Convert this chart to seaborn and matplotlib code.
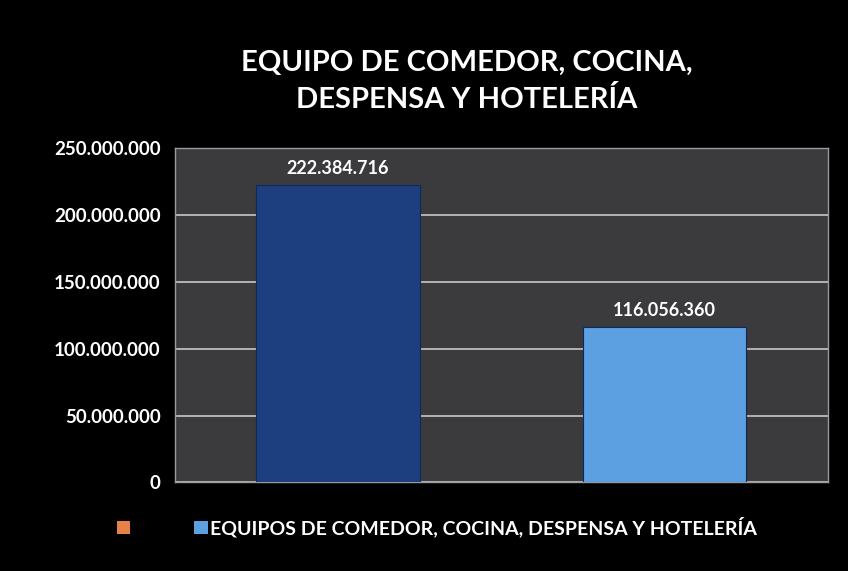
import matplotlib
matplotlib.use("Agg")
import matplotlib.pyplot as plt
import seaborn as sns
import pandas as pd
from matplotlib.patches import Patch

categories = ["Equipo 1", "Equipo 2"]
values = [222384716, 116056360]
value_labels = ["222.384.716", "116.056.360"]
yticks = [0, 50000000, 100000000, 150000000, 200000000, 250000000]
ytick_labels = ["0", "50.000.000", "100.000.000", "150.000.000", "200.000.000", "250.000.000"]
title = "EQUIPO DE COMEDOR, COCINA,\nDESPENSA Y HOTELERÍA"
legend_label = "EQUIPOS DE COMEDOR, COCINA, DESPENSA Y HOTELERÍA"
colors = ["#1d3f80", "#5ca0e2"]

sns.set_theme(style="white")
plt.rcParams["font.family"] = ["Lato", "DejaVu Sans"]

df = pd.DataFrame({"cat": categories, "val": values})

fig = plt.figure(figsize=(8.48, 5.71), dpi=100, facecolor="black")
ax = fig.add_axes([0.206, 0.155, 0.77, 0.585])
ax.set_facecolor("#3b3a3c")

sns.barplot(data=df, x="cat", y="val", hue="cat", palette=colors, width=0.5,
            saturation=1, ax=ax, legend=False, edgecolor="#0f2a5a",
            linewidth=0.8, zorder=3)

ax.set_ylim(0, 250000000)
ax.set_xlim(-0.5, 1.5)
ax.set_yticks(yticks)
ax.set_yticklabels(ytick_labels, color="white", fontsize=13.5, fontweight="bold")
ax.set_xticks([])
ax.set_xlabel("")
ax.set_ylabel("")
ax.tick_params(axis="y", length=0, pad=10)
ax.grid(axis="y", color="#b8b0b8", linewidth=1.4, zorder=0)
ax.set_axisbelow(True)
for s in ax.spines.values():
    s.set_color("#9a9a9a")
    s.set_linewidth(1.0)

for i, (v, lab) in enumerate(zip(values, value_labels)):
    ax.text(i, v + 6000000, lab, ha="center", va="bottom", color="white",
            fontsize=13, fontweight="bold")

fig.text(0.55, 0.858, title, ha="center", va="center", color="white",
         fontsize=21, fontweight="bold", linespacing=1.45)

handles = [Patch(facecolor="#e8804a", edgecolor="none"),
           Patch(facecolor=colors[1], edgecolor="none")]
fig.legend(handles, ["", legend_label], loc="center", bbox_to_anchor=(0.515, 0.077),
           ncol=2, frameon=False, labelcolor="white",
           prop={"size": 14, "weight": "bold"},
           handlelength=0.7, handleheight=0.7, handletextpad=0.1, columnspacing=3.2)

fig.savefig("out.png", dpi=100, facecolor="black")
